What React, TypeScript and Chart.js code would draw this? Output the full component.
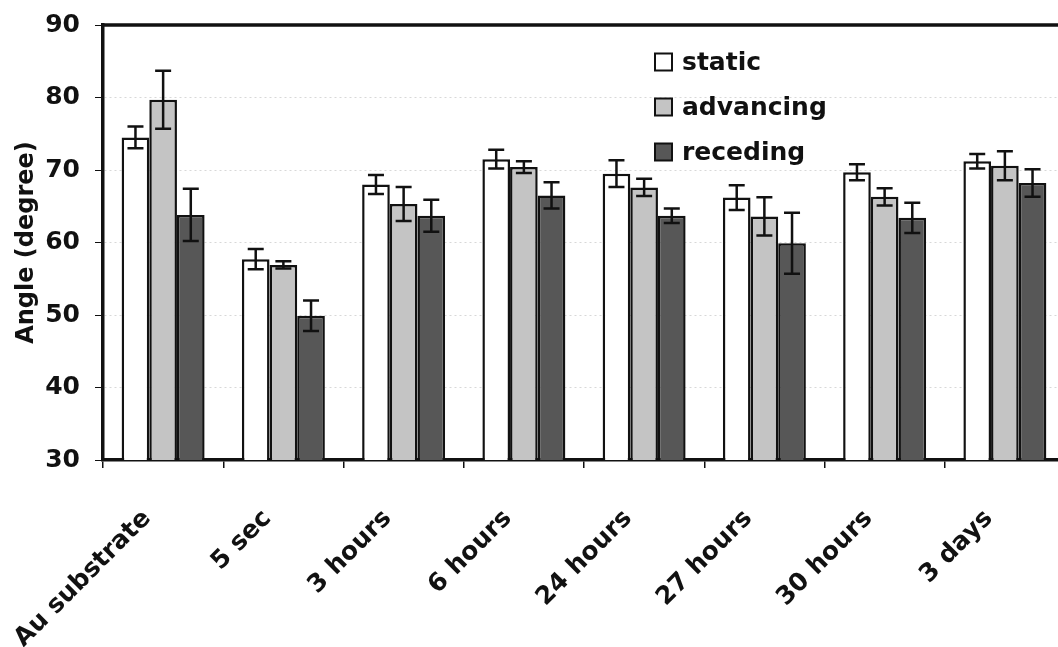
import React, { useEffect, useRef } from "react";
import { Chart, registerables } from "chart.js";

Chart.register(...registerables);

const categories = ["Au substrate", "5 sec", "3 hours", "6 hours", "24 hours", "27 hours", "30 hours", "3 days"];

const staticValues = [74.5, 57.7, 68.0, 71.5, 69.5, 66.2, 69.7, 71.2];
const staticErrors = [1.5, 1.4, 1.3, 1.3, 1.85, 1.7, 1.1, 1.0];

const advancingValues = [79.7, 56.9, 65.3, 70.4, 67.6, 63.6, 66.3, 70.6];
const advancingErrors = [4.0, 0.5, 2.35, 0.8, 1.2, 2.65, 1.2, 2.0];

const recedingValues = [63.8, 49.9, 63.7, 66.5, 63.7, 59.9, 63.4, 68.2];
const recedingErrors = [3.6, 2.1, 2.2, 1.8, 1.0, 4.2, 2.1, 1.9];

const yTicks = [30, 40, 50, 60, 70, 80, 90];

const FONT = "'DejaVu Sans', 'Liberation Sans', Arial, sans-serif";

const seriesErrors = [staticErrors, advancingErrors, recedingErrors];

// Vertical error bars with caps, one per bar, from the value ± error.
const errorBarsPlugin = {
  id: "errorBars",
  afterDatasetsDraw(chart: any) {
    const { ctx, scales } = chart;
    const y = scales.y;
    ctx.save();
    ctx.strokeStyle = "#111";
    ctx.lineWidth = 2.5;
    chart.data.datasets.forEach((ds: any, di: number) => {
      const meta = chart.getDatasetMeta(di);
      const errs = seriesErrors[di];
      meta.data.forEach((bar: any, i: number) => {
        const v = ds.data[i];
        const e = errs[i];
        const x = bar.x;
        const yTop = y.getPixelForValue(v + e);
        const yBot = y.getPixelForValue(v - e);
        const cap = 8;
        ctx.beginPath();
        ctx.moveTo(x, yTop);
        ctx.lineTo(x, yBot);
        ctx.moveTo(x - cap, yTop);
        ctx.lineTo(x + cap, yTop);
        ctx.moveTo(x - cap, yBot);
        ctx.lineTo(x + cap, yBot);
        ctx.stroke();
      });
    });
    ctx.restore();
  },
};

// Top frame line and the legend drawn inside the plot area.
const framePlugin = {
  id: "frameAndLegend",
  afterDraw(chart: any) {
    const { ctx, chartArea } = chart;
    ctx.save();
    ctx.strokeStyle = "#111";
    ctx.lineWidth = 3.5;
    ctx.beginPath();
    ctx.moveTo(chartArea.left - 1.5, chartArea.top);
    ctx.lineTo(chartArea.right, chartArea.top);
    ctx.stroke();

    const lx = chartArea.left + 552;
    const ly = chartArea.top + 37;
    const gap = 45;
    const box = 17;
    chart.data.datasets.forEach((ds: any, i: number) => {
      const cy = ly + i * gap;
      ctx.fillStyle = ds.backgroundColor;
      ctx.fillRect(lx, cy - box / 2, box, box);
      ctx.lineWidth = 2;
      ctx.strokeStyle = "#111";
      ctx.strokeRect(lx, cy - box / 2, box, box);
      ctx.fillStyle = "#111";
      ctx.font = `bold 25px ${FONT}`;
      ctx.textAlign = "left";
      ctx.textBaseline = "middle";
      ctx.fillText(ds.label, lx + 27, cy + 1);
    });
    ctx.restore();
  },
};

export default function App() {
  const canvasRef = useRef<HTMLCanvasElement | null>(null);

  useEffect(() => {
    const canvas = canvasRef.current;
    if (!canvas) return;
    const chart = new Chart(canvas, {
      type: "bar",
      data: {
        labels: categories,
        datasets: [
          {
            label: "static",
            data: staticValues,
            backgroundColor: "#ffffff",
            borderColor: "#111111",
            borderWidth: 2.5,
          },
          {
            label: "advancing",
            data: advancingValues,
            backgroundColor: "#c4c4c4",
            borderColor: "#111111",
            borderWidth: 2.5,
          },
          {
            label: "receding",
            data: recedingValues,
            backgroundColor: "#575757",
            borderColor: "#111111",
            borderWidth: 2.5,
          },
        ],
      },
      options: {
        responsive: false,
        animation: false,
        devicePixelRatio: 1,
        layout: { padding: { top: 25, right: 10, left: 0, bottom: 0 } },
        datasets: {
          bar: { categoryPercentage: 0.69, barPercentage: 1.0 },
        },
        plugins: {
          legend: { display: false },
          tooltip: { enabled: false },
        },
        scales: {
          x: {
            grid: {
              offset: true,
              drawOnChartArea: false,
              color: "#111",
              tickColor: "#111",
              tickLength: 8,
              lineWidth: 1.5,
            },
            border: { display: true, color: "#111", width: 3.5 },
            ticks: {
              maxRotation: 45,
              minRotation: 45,
              padding: 36,
              labelOffset: -16,
              color: "#111",
              font: { family: FONT, size: 25, weight: "bold" },
            },
            afterFit(scale: any) {
              scale.height = 187;
              scale.paddingLeft = 0;
              scale.paddingRight = 0;
            },
          },
          y: {
            min: 30,
            max: 90,
            afterBuildTicks(scale: any) {
              scale.ticks = yTicks.map((v) => ({ value: v }));
            },
            grid: {
              color: "#d8d8d8",
              tickColor: "#111",
              tickLength: 8,
              lineWidth: 1,
            },
            border: { display: true, color: "#111", width: 3.5, dash: [2, 3] },
            ticks: {
              padding: 15,
              color: "#111",
              font: { family: FONT, size: 25, weight: "bold" },
            },
            title: {
              display: true,
              text: "Angle (degree)",
              color: "#111",
              font: { family: FONT, size: 24, weight: "bold" },
              padding: { top: 12, bottom: 0 },
            },
            afterFit(scale: any) {
              scale.width = 103;
              scale.paddingTop = 0;
              scale.paddingBottom = 0;
            },
          },
        },
      },
      plugins: [errorBarsPlugin, framePlugin],
    });
    return () => chart.destroy();
  }, []);

  return (
    <div
      style={{
        position: "fixed",
        left: 0,
        top: 0,
        width: 1058,
        height: 647,
        overflow: "hidden",
        background: "#fff",
      }}
    >
      <canvas
        ref={canvasRef}
        width={1075}
        height={647}
        style={{ position: "absolute", left: 0, top: 0, width: 1075, height: 647 }}
      />
    </div>
  );
}
